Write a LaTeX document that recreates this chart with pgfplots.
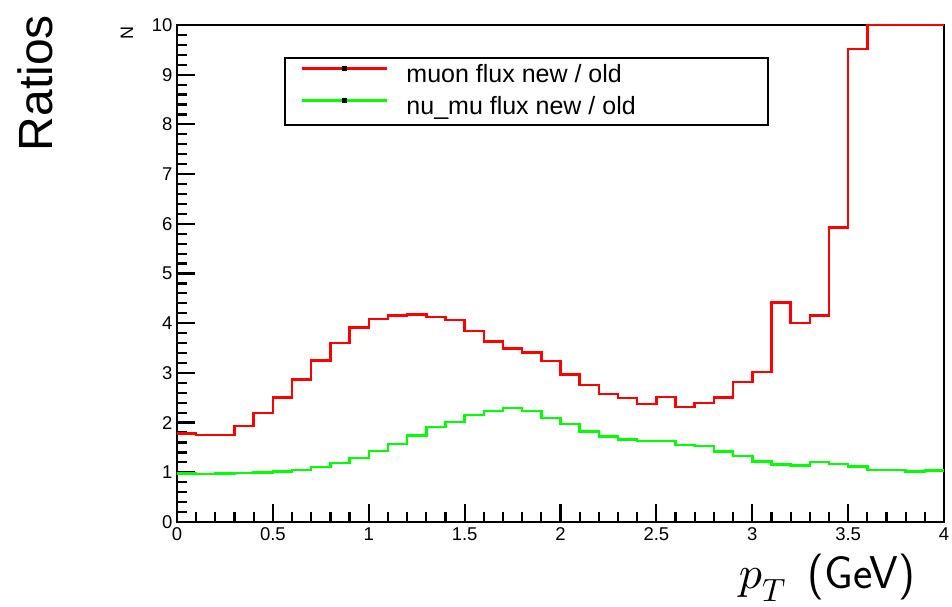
\documentclass[border=0pt]{standalone}
\usepackage{fontspec}
\setmainfont{Liberation Sans}
\DeclareFontFamily{OML}{cmm}{\skewchar\font'177}
\DeclareFontShape{OML}{cmm}{m}{it}{<-> cmmi10}{}
\usepackage{pgfplots}
\pgfplotsset{compat=1.18}
\begin{document}
\begin{tikzpicture}
\path[use as bounding box] (-177pt,-85pt) rectangle (775pt,522pt);
\begin{axis}[
  at={(0pt,0pt)}, anchor=south west,
  width=767pt, height=497pt, scale only axis,
  xmin=0, xmax=4, ymin=0, ymax=10,
  xtick={0,0.5,1,1.5,2,2.5,3,3.5,4},
  xticklabels={0,0.5,1,1.5,2,2.5,3,3.5,4},
  ytick={0,1,2,3,4,5,6,7,8,9,10},
  minor x tick num=4, minor y tick num=4,
  tick pos=left, tick align=inside,
  major tick length=18pt, minor tick length=10pt,
  every tick/.style={black, line width=2.2pt},
  axis line style={line width=2.5pt},
  ticklabel style={font=\fontsize{18.5}{20}\selectfont},
  /pgf/number format/assume math mode=true,
  xticklabel style={yshift=-2pt},
  yticklabel style={xshift=-1pt},
  clip=false,
  legend cell align=left,
  legend style={at={(rel axis cs:0.1395,0.9356)}, anchor=north west,
    draw=black, line width=2pt, inner xsep=16pt, inner ysep=5pt,
    font=\fontsize{25}{29}\selectfont,
    nodes={inner sep=0pt, text height=19pt, text depth=6pt},
    row sep=7pt, column sep=18pt},
  legend image code/.code={\draw[#1] (0pt,7pt) -- (85pt,7pt);
     \fill[black] (41.5pt,5.8pt) rectangle (43.5pt,8.2pt);},
]
\addplot[const plot, red, line width=2.5pt] coordinates {
(0.0,1.78) (0.1,1.75) (0.2,1.75) (0.3,1.93) (0.4,2.19) (0.5,2.50) (0.6,2.87) (0.7,3.25) (0.8,3.60) (0.9,3.91)
(1.0,4.08) (1.1,4.15) (1.2,4.18) (1.3,4.12) (1.4,4.06) (1.5,3.84) (1.6,3.63) (1.7,3.49) (1.8,3.41) (1.9,3.24)
(2.0,2.97) (2.1,2.76) (2.2,2.58) (2.3,2.49) (2.4,2.37) (2.5,2.52) (2.6,2.31) (2.7,2.39) (2.8,2.51) (2.9,2.82)
(3.0,3.02) (3.1,4.42) (3.2,4.00) (3.3,4.15) (3.4,5.93) (3.5,9.52) (3.6,10) (3.7,10) (3.8,10) (3.9,10) (4.0,10)
};
\addlegendentry{\makebox[345pt][l]{muon flux new / old}}
\addplot[const plot, green, line width=2.5pt] coordinates {
(0.0,0.98) (0.1,0.97) (0.2,0.98) (0.3,0.99) (0.4,1.00) (0.5,1.02) (0.6,1.05) (0.7,1.11) (0.8,1.19) (0.9,1.29)
(1.0,1.43) (1.1,1.57) (1.2,1.74) (1.3,1.91) (1.4,2.01) (1.5,2.15) (1.6,2.23) (1.7,2.29) (1.8,2.23) (1.9,2.09)
(2.0,1.97) (2.1,1.82) (2.2,1.72) (2.3,1.66) (2.4,1.63) (2.5,1.63) (2.6,1.55) (2.7,1.53) (2.8,1.42) (2.9,1.33)
(3.0,1.22) (3.1,1.16) (3.2,1.14) (3.3,1.21) (3.4,1.17) (3.5,1.12) (3.6,1.05) (3.7,1.05) (3.8,1.02) (3.9,1.04) (4.0,1.04)
};
\addlegendentry{\makebox[345pt][l]{nu\_mu flux new / old}}
\end{axis}
\node[rotate=90, anchor=base east, font=\fontsize{48}{56}\selectfont, inner sep=0pt] at (-124pt,507pt) {Ratios};
\node[rotate=90, anchor=base east, font=\fontsize{18}{20}\selectfont, inner sep=0pt] at (-44pt,496pt) {N};
\node[anchor=base east, inner sep=0pt, font=\fontsize{46}{54}\selectfont] at (738pt,-66pt) {$p_{\raisebox{6pt}{$\scriptstyle T$}}$\hspace{22pt}\textsf{(GeV)}};
\end{tikzpicture}
\end{document}
